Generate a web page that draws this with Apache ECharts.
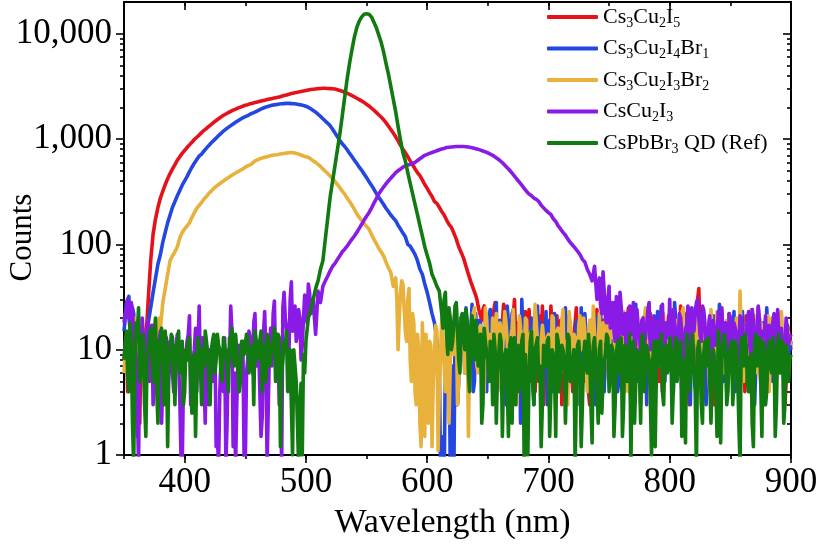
<!DOCTYPE html>
<html>
<head>
<meta charset="utf-8">
<script src="https://cdn.jsdelivr.net/npm/echarts@6/dist/echarts.min.js"></script>
<style>
  html, body { margin: 0; padding: 0; background: #ffffff; }
  #chart { width: 818px; height: 556px; }
</style>
</head>
<body>
<div id="chart"></div>
<script>
// Photoluminescence spectra. Main arrays: counts every 2 nm from 350 nm to 900 nm.
// The *Odd* arrays add the odd-nm readings inside the noisy baseline stretches.
const WL_START = 350;
const WL_STEP = 2;

const seriesNames = ['Cs3Cu2I5', 'Cs3Cu2I4Br1', 'Cs3Cu2I3Br2', 'CsCu2I3', 'CsPbBr3 QD (Ref)'];
const seriesColors = ['#e5121b', '#2347e0', '#e8b13c', '#8a1be6', '#117a11'];

const cs3cu2i5 = [
  8, 12, 5, 14, 6, 9, 3, 11, 7, 12, 30, 70, 125, 175, 225, 275, 320, 370, 420, 470, 520, 570, 630, 680, 730,
  780, 830, 880, 930, 990, 1040, 1090, 1150, 1210, 1260, 1320, 1380, 1440, 1500, 1560, 1620, 1680, 1730, 1780, 1830, 1880, 1920, 1970, 2010, 2050,
  2090, 2120, 2160, 2190, 2220, 2250, 2280, 2310, 2340, 2370, 2400, 2420, 2450, 2480, 2510, 2550, 2590, 2620, 2660, 2700, 2740, 2770, 2800, 2830, 2860,
  2890, 2920, 2950, 2970, 2990, 3010, 3020, 3030, 3030, 3020, 3010, 3000, 2980, 2940, 2890, 2840, 2780, 2720, 2650, 2580, 2510, 2440, 2370, 2300, 2220,
  2140, 2060, 1970, 1880, 1790, 1700, 1620, 1530, 1430, 1330, 1230, 1140, 1050, 960, 870, 800, 740, 680, 620, 570, 520, 480, 450, 410, 370,
  340, 310, 285, 255, 245, 225, 205, 190, 170, 155, 145, 128, 112, 95, 84, 74, 62, 52, 44, 38, 33, 26, 21, 24, 18,
  15, 22, 9, 28, 12, 6, 18, 25, 10, 4, 14, 30, 11, 7, 19, 8, 13, 24, 5, 16, 9, 21, 12, 3, 17,
  10, 26, 8, 14, 5, 19, 11, 22, 7, 13, 4, 18, 9, 15, 6, 20, 12, 3, 16, 10, 24, 7, 13, 5, 17,
  9, 14, 4, 21, 11, 6, 16, 8, 25, 12, 5, 15, 10, 3, 18, 7, 13, 22, 9, 6, 14, 11, 4, 17, 8,
  12, 5, 19, 9, 14, 7, 22, 10, 3, 16, 8, 13, 38, 11, 6, 15, 9, 20, 4, 12, 17, 7, 10, 14, 5,
  18, 9, 13, 6, 21, 11, 4, 15, 8, 24, 10, 7, 16, 12, 3, 19, 9, 14, 6, 11, 20, 8, 13, 5, 15, 10
];
const cs3cu2i5Odd351 = [10, 4, 9, 13, 5, 8, 2, 10, 9];
const cs3cu2i5Odd641 = [
  30, 23, 19, 26, 14, 20, 8, 24, 13, 6,
  17, 27, 9, 15, 5, 21, 12, 18, 7, 11,
  23, 6, 14, 19, 4, 16, 10, 26, 8, 13,
  5, 17, 12, 21, 9, 3, 15, 11, 20, 7,
  14, 25, 6, 12, 18, 9, 4, 16, 11, 22,
  8, 13, 19, 5, 15, 10, 24, 7, 12, 17,
  4, 11, 20, 9, 14, 6, 18, 12, 3, 16,
  10, 23, 7, 13, 19, 5, 11, 15, 8, 21,
  12, 6, 17, 10, 26, 4, 14, 9, 18, 11,
  7, 30, 13, 5, 16, 9, 20, 12, 3, 15,
  10, 19, 6, 13, 22, 8, 11, 17, 4, 14,
  9, 21, 12, 7, 16, 10, 25, 5, 13, 18,
  8, 11, 20, 6, 15, 9, 13, 3, 17, 12
];

const cs3cu2i4br1 = [
  15, 28, 32, 12, 22, 8, 2, 14, 6, 11, 18, 25, 35, 48, 65, 80, 105, 130, 160, 190, 225, 255, 290, 325, 365,
  400, 440, 490, 540, 590, 640, 690, 720, 770, 820, 870, 920, 970, 1020, 1080, 1130, 1190, 1240, 1290, 1340, 1390, 1440, 1490, 1540, 1590,
  1630, 1670, 1720, 1760, 1800, 1850, 1900, 1950, 1990, 2030, 2060, 2090, 2110, 2130, 2150, 2160, 2170, 2180, 2180, 2170, 2160, 2150, 2130, 2110, 2080,
  2050, 2000, 1940, 1870, 1800, 1720, 1640, 1560, 1480, 1410, 1340, 1240, 1140, 1050, 970, 900, 850, 790, 730, 680, 630, 585, 540, 505, 465,
  430, 395, 365, 335, 305, 280, 260, 240, 220, 205, 190, 178, 168, 152, 140, 128, 118, 100, 96, 88, 80, 70, 58, 52, 42,
  35, 28, 22, 18, 12, 8, 1.5, 0.5, 6, 14, 3, 0.6, 10, 5, 20, 12, 25, 8, 15, 4, 22, 9, 18, 6, 13,
  11, 24, 7, 16, 4, 19, 9, 14, 26, 8, 22, 12, 5, 17, 30, 10, 6, 15, 20, 3, 13, 8, 18, 11, 23,
  9, 15, 4, 20, 12, 7, 17, 25, 10, 5, 14, 8, 19, 3, 12, 22, 9, 16, 6, 11, 21, 8, 14, 4, 18,
  10, 24, 7, 13, 5, 17, 11, 20, 8, 3, 15, 27, 9, 12, 6, 19, 10, 14, 4, 16, 23, 8, 11, 5, 18,
  9, 13, 28, 7, 15, 4, 20, 11, 8, 16, 12, 24, 6, 10, 18, 3, 14, 9, 21, 7, 13, 26, 5, 11, 17,
  8, 14, 4, 19, 10, 23, 6, 12, 16, 9, 3, 15, 20, 8, 11, 25, 7, 13, 5, 17, 10, 22, 6, 14, 9, 12
];
const cs3cu2i4br1Odd351 = [20, 30, 18, 25, 6, 1.5, 9, 16, 4, 13];
const cs3cu2i4br1Odd607 = [
  15, 4, 0.7, 1, 9, 20, 0.8, 7, 16, 3,
  11, 22, 6, 17, 10, 27, 5, 13, 19, 8,
  14, 4, 21, 9, 12, 28, 6, 16, 11, 3,
  18, 10, 24, 7, 13, 2, 15, 20, 9, 12,
  5, 17, 26, 8, 14, 10, 3, 19, 11, 22,
  6, 13, 16, 9, 4, 21, 12, 7, 18, 10,
  25, 5, 14, 11, 19, 8, 3, 15, 22, 9,
  12, 17, 6, 10, 28, 4, 13, 16, 9, 20,
  7, 11, 24, 5, 14, 18, 10, 3, 15, 12,
  21, 8, 13, 26, 6, 11, 17, 9, 4, 19,
  14, 10, 22, 7, 12, 3, 16, 25, 8, 13,
  18, 5, 11, 20, 9, 15, 6, 27, 10, 14,
  4, 17, 12, 23, 8, 13, 19, 6, 11, 16,
  9, 21, 3, 14, 10, 18, 7, 24, 12, 5,
  15, 11, 20, 8, 13, 17, 10
];

const cs3cu2i3br2 = [
  6, 10, 4, 18, 9, 3, 12, 7, 15, 5, 11, 8, 14, 10, 13, 16, 28, 38, 52, 70, 78, 85, 95, 115, 130,
  140, 150, 160, 180, 200, 220, 235, 250, 270, 285, 305, 320, 340, 355, 370, 385, 400, 415, 430, 445, 460, 475, 490, 505, 520,
  540, 555, 570, 590, 620, 635, 650, 660, 670, 680, 690, 700, 705, 710, 718, 725, 730, 735, 740, 745, 740, 730, 720, 705, 690,
  680, 670, 645, 620, 600, 575, 550, 520, 495, 470, 445, 420, 395, 370, 345, 320, 300, 275, 255, 235, 215, 195, 180, 168, 158,
  148, 140, 125, 112, 102, 92, 85, 78, 68, 60, 54, 40, 48, 10, 35, 42, 15, 30, 8, 22, 4, 14, 2, 18, 1.5,
  6, 12, 1.2, 9, 15, 4, 20, 7, 11, 2, 16, 9, 24, 5, 13, 19, 8, 1.5, 14, 22, 10, 6, 17, 12, 25,
  11, 7, 20, 14, 4, 18, 9, 23, 12, 6, 16, 10, 3, 21, 13, 8, 19, 5, 15, 11, 26, 7, 12, 17, 9,
  14, 5, 20, 10, 16, 8, 24, 12, 3, 18, 9, 13, 7, 21, 11, 15, 4, 19, 10, 14, 6, 22, 8, 12, 17,
  5, 13, 19, 9, 15, 7, 23, 11, 4, 16, 10, 20, 6, 14, 12, 25, 8, 3, 17, 11, 13, 7, 21, 9, 15,
  12, 18, 6, 14, 9, 22, 11, 4, 16, 8, 13, 20, 10, 5, 17, 12, 7, 24, 9, 15, 3, 19, 11, 14, 8,
  16, 10, 13, 5, 36, 12, 7, 18, 9, 14, 21, 6, 11, 17, 8, 13, 4, 20, 10, 15, 7, 23, 12, 9, 16, 11
];
const cs3cu2i3br2Odd351 = [9, 14, 7, 12, 20, 5, 10, 16, 3, 13, 8, 17, 11, 12, 20];
const cs3cu2i3br2Odd575 = [
  30, 20, 45, 25, 12, 38, 5, 18, 3, 10,
  1.2, 8, 14, 2, 11, 5, 17, 1.1, 9, 13,
  4, 19, 7, 12, 21, 3, 15, 10, 6, 18,
  9, 13, 25, 7, 16, 11, 4, 20, 14, 8,
  12, 22, 6, 15, 9, 18, 3, 13, 24, 10,
  7, 16, 11, 20, 5, 14, 9, 27, 12, 6,
  17, 10, 13, 4, 21, 8, 15, 11, 19, 6,
  12, 23, 9, 14, 3, 17, 10, 20, 7, 13,
  16, 26, 8, 11, 5, 18, 12, 9, 22, 14,
  6, 15, 10, 19, 4, 13, 17, 8, 24, 11,
  9, 14, 20, 7, 12, 16, 3, 18, 10, 13,
  22, 8, 11, 15, 6, 19, 12, 9, 25, 14,
  5, 16, 10, 21, 7, 13, 18, 9, 12, 4,
  17, 11, 23, 8, 14, 6, 19, 10, 15, 12,
  20, 9, 13, 5, 16, 11, 24, 7, 14, 10,
  18, 6, 12, 21, 9, 15, 4, 13, 19, 11,
  8, 16, 12
];

const cscu2i3 = [
  18, 25, 20, 28, 14, 8, 0.8, 9, 14, 6, 19, 11, 3, 13, 8, 15, 5, 10, 4, 12, 6, 9, 14, 3.5, 0.8,
  7, 12, 21, 6, 10, 4, 26, 8, 5, 11, 3, 9, 6, 1.2, 0.8, 8, 4, 0.8, 10, 26, 1.2, 0.8, 9, 5, 12,
  0.8, 8, 13, 6, 22, 9, 4, 2.3, 23, 0.8, 11, 7, 29, 14, 3, 0.8, 35, 16, 9, 44, 18, 12, 24, 8, 20,
  28, 42, 22, 30, 14, 36, 28, 40, 45, 50, 56, 62, 66, 72, 78, 85, 90, 96, 104, 112, 120, 130, 142, 155, 170,
  185, 200, 220, 245, 270, 300, 325, 350, 375, 400, 425, 450, 480, 500, 520, 540, 555, 565, 575, 585, 600, 625, 650, 675, 700,
  715, 730, 745, 760, 775, 790, 805, 815, 830, 835, 840, 845, 848, 850, 850, 848, 845, 840, 832, 822, 810, 798, 785, 770, 755,
  740, 720, 700, 675, 650, 625, 595, 565, 535, 505, 475, 445, 415, 390, 365, 340, 318, 300, 290, 275, 268, 255, 235, 222, 210,
  200, 192, 175, 165, 150, 140, 130, 122, 112, 104, 98, 92, 86, 80, 72, 68, 58, 52, 45, 62, 30, 48, 22, 35, 18,
  40, 22, 15, 32, 12, 25, 18, 9, 22, 14, 28, 11, 17, 8, 20, 13, 24, 10, 16, 7, 19, 12, 27, 9, 15,
  30, 11, 18, 8, 22, 14, 6, 17, 10, 25, 15, 28, 20, 12, 24, 9, 16, 5, 19, 11, 23, 8, 14, 18, 7,
  20, 12, 16, 6, 21, 13, 9, 18, 11, 24, 8, 15, 19, 10, 14, 5, 17, 12, 22, 9, 13, 16, 7, 20, 11, 14
];
const cscu2i3Odd351 = [
  22, 30, 16, 24, 11, 3, 15, 20, 9, 14,
  5, 17, 10, 7, 12, 2, 8, 13, 6, 10,
  4, 11, 8, 1, 5, 9, 14, 3, 8, 16,
  11, 6, 13, 2, 7, 10, 5, 12, 1.5, 4,
  9, 13, 2, 7, 15, 6, 3, 11, 8, 1,
  6, 15, 10, 18, 7, 12, 1.5, 14, 9, 3,
  16, 22, 8, 11, 5, 25, 20, 12, 30, 15,
  26, 14, 20, 11, 33, 18, 35
];
const cscu2i3Odd741 = [
  40, 26, 55, 20, 30, 16, 28, 12, 20, 35,
  14, 22, 11, 26, 18, 9, 24, 15, 19, 10,
  17, 28, 12, 20, 8, 14, 23, 11, 18, 13,
  9, 24, 15, 12, 20, 7, 16, 26, 11, 19,
  22, 30, 14, 26, 18, 10, 21, 8, 15, 12,
  17, 25, 10, 13, 22, 9, 18, 14, 6, 20,
  11, 16, 23, 8, 19, 13, 26, 10, 15, 21,
  9, 14, 18, 12, 24, 7, 16, 11, 20, 13
];

const cspbbr3Qd = [
  8, 15, 4, 12, 0.8, 18, 25, 6, 14, 1.5, 10, 16, 5, 20, 2, 11, 7, 15, 1.2, 9, 13, 3, 10, 6, 12,
  4, 8, 13, 2.5, 9, 6, 11, 3, 7, 12, 5, 10, 14, 8, 11, 6, 13, 9, 4, 12, 8, 14, 10, 5, 11,
  9, 13, 7, 11, 15, 8, 12, 4, 10, 14, 7, 11, 16, 9, 13, 6, 12, 15, 8, 3, 10, 5, 0.8, 4.8, 9,
  12, 20, 24, 30, 38, 45, 58, 70, 112, 178, 282, 398, 562, 794, 1122, 1660, 2512, 3715, 5248, 7079, 9333, 11482, 13183, 14454, 15311,
  15488, 15311, 14454, 12882, 11482, 9772, 8318, 6761, 5248, 4169, 3162, 2399, 1820, 1318, 977, 741, 617, 479, 380, 302, 240, 191, 151, 120, 95,
  79, 66, 52, 46, 40, 36, 22, 30, 14, 25, 10, 18, 28, 8, 20, 13, 24, 6, 16, 11, 19, 7, 14, 3, 12,
  8, 12, 3, 10, 6, 14, 1.5, 9, 5, 11, 2, 13, 7, 4, 12, 0.8, 9, 6, 15, 3, 10, 5, 1.2, 11, 7,
  13, 4, 9, 1.5, 12, 6, 10, 2, 14, 5, 8, 0.8, 11, 7, 3, 12, 6, 9, 1.3, 13, 5, 10, 2.5, 8, 14,
  4, 11, 1.5, 9, 6, 13, 3, 10, 7, 0.8, 12, 5, 9, 2, 14, 6, 11, 3.5, 8, 1.2, 12, 7, 4, 10, 6,
  13, 2, 9, 5, 11, 1.5, 8, 14, 4, 10, 6, 0.8, 12, 3, 9, 7, 13, 2, 10, 5, 15, 1.3, 8, 11, 4,
  9, 3, 12, 6, 0.8, 10, 14, 5, 8, 2, 11, 7, 13, 1.5, 9, 4, 12, 6, 10, 3, 14, 8, 2, 11, 5, 9
];
const cspbbr3QdOdd351 = [
  12, 6, 18, 2, 9, 14, 5, 11, 3, 8,
  13, 9, 15, 4, 12, 16, 3, 10, 7, 14,
  6, 11, 15, 9, 3, 10, 12, 5, 8, 1.5,
  13, 7, 10, 15, 9, 3, 12, 6, 14, 10,
  5, 11, 8, 13, 16, 7, 10, 4, 12, 9,
  14, 6, 10, 3, 12, 9, 15, 11, 5, 13,
  9, 12, 5, 14, 1.2, 8, 11, 4, 10, 1,
  7, 2, 3, 1, 6
];
const cspbbr3QdOdd611 = [
  28, 16, 35, 9, 20, 12, 26, 15, 6, 22,
  10, 18, 4, 21, 8, 14, 11, 2, 16, 9,
  5, 11, 14, 2, 9, 12, 6, 10, 1.5, 13,
  8, 3, 11, 6, 14, 9, 1, 12, 5, 10,
  13, 7, 3, 9, 12, 1.5, 10, 6, 14, 4,
  11, 8, 2, 13, 6, 10, 4, 12, 1.2, 9,
  7, 14, 3, 11, 8, 2, 12, 5, 9, 13,
  6, 10, 3, 12, 8, 1.5, 11, 5, 14, 9,
  2, 10, 7, 13, 4, 11, 8, 1, 12, 6,
  9, 14, 3, 11, 7, 10, 2, 13, 5, 12,
  8, 1.3, 11, 6, 14, 4, 10, 9, 2, 12,
  7, 13, 5, 10, 1.5, 11, 8, 14, 3, 9,
  12, 6, 10, 2, 13, 7, 11, 4, 9, 1.2,
  14, 8, 5, 12, 3, 10, 7, 13, 1.5, 11,
  6, 12, 3, 9, 8
];

// Main samples plus the odd-nm samples, each set with its first wavelength
const seriesSamples = [
  { main: cs3cu2i5, extra: [[351, cs3cu2i5Odd351], [641, cs3cu2i5Odd641]] },
  { main: cs3cu2i4br1, extra: [[351, cs3cu2i4br1Odd351], [607, cs3cu2i4br1Odd607]] },
  { main: cs3cu2i3br2, extra: [[351, cs3cu2i3br2Odd351], [575, cs3cu2i3br2Odd575]] },
  { main: cscu2i3, extra: [[351, cscu2i3Odd351], [741, cscu2i3Odd741]] },
  { main: cspbbr3Qd, extra: [[351, cspbbr3QdOdd351], [611, cspbbr3QdOdd611]] }
];

// Axis ranges and tick positions
const xMin = 350, xMax = 900, xMinorStep = 50;
const xMajorTicks = [400, 500, 600, 700, 800, 900];
const yMin = 1, yMax = 20000;
const yMajorTicks = [1, 10, 100, 1000, 10000];
const yMinorTicks = [];
yMajorTicks.forEach(function (d) {
  for (let m = 2; m <= 9; m++) {
    if (d * m < yMax) yMinorTicks.push(d * m);
  }
});

const FONT = 'Liberation Serif';
const BLACK = '#000000';

function toPairs(sample) {
  const pts = sample.main.map(function (c, i) { return [WL_START + i * WL_STEP, c]; });
  sample.extra.forEach(function (set) {
    set[1].forEach(function (c, i) { pts.push([set[0] + i * WL_STEP, c]); });
  });
  pts.sort(function (a, b) { return a[0] - b[0]; });
  return pts;
}

function xAxisDef(pos, ticks, len, inside, withLine, withLabels) {
  const axis = {
    type: 'value', gridIndex: 0, position: pos, min: xMin, max: xMax, interval: xMinorStep,
    splitLine: { show: false },
    axisLine: { show: withLine, onZero: false, lineStyle: { color: BLACK, width: 2 } },
    axisTick: { show: true, inside: inside, length: len, lineStyle: { color: BLACK, width: 1.6 } },
    axisLabel: { show: false }
  };
  if (ticks) axis.axisTick.customValues = ticks;
  if (withLabels) {
    axis.axisLabel = {
      show: true, margin: 10, color: BLACK, fontFamily: FONT, fontSize: 35,
      customValues: xMajorTicks,
      formatter: function (v) { return String(v); }
    };
    axis.name = 'Wavelength (nm)';
    axis.nameLocation = 'middle';
    axis.nameGap = 51;
    axis.nameMoveOverlap = false;
    axis.nameTextStyle = { color: BLACK, fontFamily: FONT, fontSize: 34, padding: [0, 10, 0, 0] };
  }
  return axis;
}

function yAxisDef(pos, ticks, len, inside, withLine, withLabels) {
  const axis = {
    type: 'log', logBase: 10, gridIndex: 0, position: pos, min: yMin, max: yMax,
    splitLine: { show: false },
    axisLine: { show: withLine, onZero: false, lineStyle: { color: BLACK, width: 2 } },
    axisTick: { show: true, inside: inside, length: len, customValues: ticks, lineStyle: { color: BLACK, width: 1.6 } },
    axisLabel: { show: false }
  };
  if (withLabels) {
    axis.axisLabel = {
      show: true, margin: 12, color: BLACK, fontFamily: FONT, fontSize: 35,
      customValues: yMajorTicks,
      formatter: function (v) { return Math.round(v).toLocaleString('en-US'); }
    };
    axis.name = 'Counts';
    axis.nameLocation = 'middle';
    axis.nameGap = 86;
    axis.nameMoveOverlap = false;
    axis.nameTextStyle = { color: BLACK, fontFamily: FONT, fontSize: 31, padding: [0, 18, 0, 0] };
  }
  return axis;
}

const chart = echarts.init(document.getElementById('chart'), null, { renderer: 'canvas' });

chart.setOption({
  backgroundColor: '#ffffff',
  animation: false,
  grid: { left: 124, right: 27, top: 2, bottom: 101, containLabel: false, outerBoundsMode: 'none' },
  legend: {
    orient: 'vertical', left: 547, top: 3, padding: 0,
    icon: 'roundRect', itemWidth: 51, itemHeight: 4, itemGap: 3.5,
    data: seriesNames,
    textStyle: {
      color: BLACK, fontFamily: FONT, fontSize: 22, lineHeight: 28,
      rich: { s: { fontFamily: FONT, fontSize: 14, lineHeight: 14, padding: [12, 0, 0, 0], color: BLACK } }
    },
    formatter: function (name) { return name.replace(/(\d)/g, '{s|$1}'); }
  },
  xAxis: [
    xAxisDef('bottom', null, 4, false, true, true),
    xAxisDef('bottom', xMajorTicks, 8, false, false, false),
    xAxisDef('top', null, 4, true, true, false),
    xAxisDef('top', xMajorTicks, 8, true, false, false)
  ],
  yAxis: [
    yAxisDef('left', yMajorTicks, 8, false, true, true),
    yAxisDef('left', yMinorTicks, 4, false, false, false),
    yAxisDef('right', yMajorTicks, 8, true, true, false),
    yAxisDef('right', yMinorTicks, 4, true, false, false)
  ],
  series: seriesSamples.map(function (sample, k) {
    return {
      name: seriesNames[k], type: 'line', xAxisIndex: 0, yAxisIndex: 0,
      data: toPairs(sample), symbol: 'none', clip: true,
      lineStyle: { color: seriesColors[k], width: 3.6, join: 'round' },
      itemStyle: { color: seriesColors[k] }
    };
  })
});
</script>
</body>
</html>
